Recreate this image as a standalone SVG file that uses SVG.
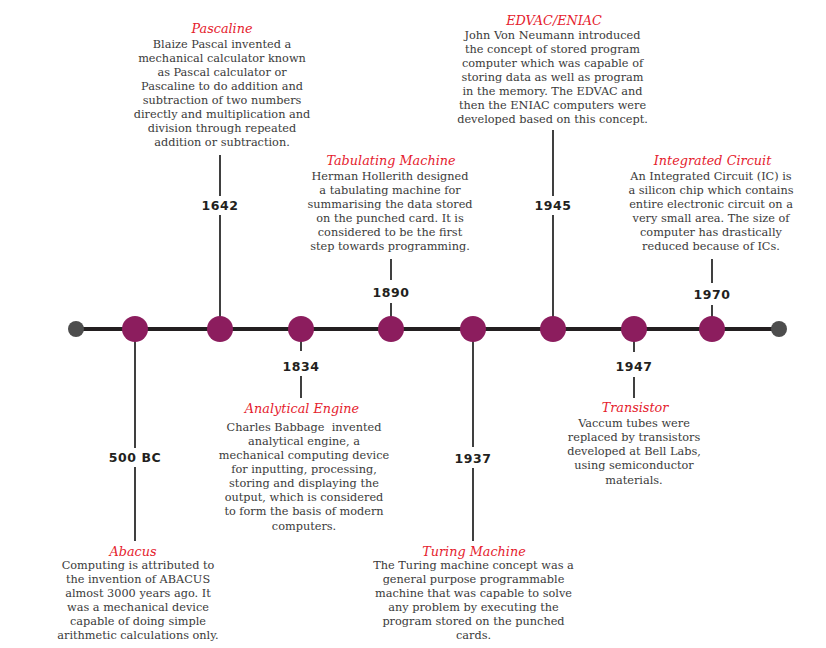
<svg xmlns="http://www.w3.org/2000/svg" width="826" height="648" viewBox="0 0 826 648">
<style>
.axis{stroke:#231f20;stroke-width:4;fill:none}
.stem{stroke:#2b2b2b;stroke-width:1.8;fill:none}
.dot{fill:#8c1d5e}
.end{fill:#4d4d4d}
.yr{font-family:"DejaVu Sans",sans-serif;font-weight:bold;font-size:12.5px;fill:#231f20;text-anchor:middle;letter-spacing:0.6px}
.ttl{font-family:"DejaVu Serif","Liberation Serif",serif;font-style:italic;font-size:12.8px;fill:#e5212d;text-anchor:middle}
.body{font-family:"DejaVu Serif","Liberation Serif",serif;font-size:11.3px;fill:#3a3a3a;text-anchor:middle}
</style>
<rect width="826" height="648" fill="#ffffff"/>
<g id="connectors">
<line class="axis" x1="76" y1="329" x2="779" y2="329"/>
<line class="stem" x1="135" y1="329" x2="135" y2="448"/>
<line class="stem" x1="135" y1="467" x2="135" y2="541"/>
<line class="stem" x1="220" y1="155" x2="220" y2="196"/>
<line class="stem" x1="220" y1="215" x2="220" y2="329"/>
<line class="stem" x1="301" y1="329" x2="301" y2="351"/>
<line class="stem" x1="301" y1="376" x2="301" y2="398"/>
<line class="stem" x1="391" y1="259" x2="391" y2="280"/>
<line class="stem" x1="391" y1="303" x2="391" y2="329"/>
<line class="stem" x1="473" y1="329" x2="473" y2="447"/>
<line class="stem" x1="473" y1="468" x2="473" y2="541"/>
<line class="stem" x1="553" y1="130" x2="553" y2="196"/>
<line class="stem" x1="553" y1="215" x2="553" y2="329"/>
<line class="stem" x1="634" y1="329" x2="634" y2="352"/>
<line class="stem" x1="634" y1="377" x2="634" y2="398"/>
<line class="stem" x1="712" y1="259" x2="712" y2="283"/>
<line class="stem" x1="712" y1="305" x2="712" y2="329"/>
</g>
<g id="start"><circle class="end" cx="76" cy="329" r="8"/></g>
<g id="end"><circle class="end" cx="779" cy="329" r="8"/></g>
<g id="abacus">
<circle class="dot" cx="135" cy="329" r="13"/>
<text class="yr" x="135" y="462">500 BC</text>
<text class="ttl" x="133" y="556">Abacus</text>
<text class="body" x="138" y="569.3">Computing is attributed to</text>
<text class="body" x="138" y="583.3">the invention of ABACUS</text>
<text class="body" x="138" y="597.3">almost 3000 years ago. It</text>
<text class="body" x="138" y="611.3">was a mechanical device</text>
<text class="body" x="138" y="625.3">capable of doing simple</text>
<text class="body" x="138" y="639.3">arithmetic calculations only.</text>
</g>
<g id="pascaline">
<circle class="dot" cx="220" cy="329" r="13"/>
<text class="yr" x="220" y="210">1642</text>
<text class="ttl" x="222" y="33.3">Pascaline</text>
<text class="body" x="222" y="48.3">Blaize Pascal invented a</text>
<text class="body" x="222" y="62.2">mechanical calculator known</text>
<text class="body" x="222" y="76.1">as Pascal calculator or</text>
<text class="body" x="222" y="90">Pascaline to do addition and</text>
<text class="body" x="222" y="104">subtraction of two numbers</text>
<text class="body" x="222" y="117.9">directly and multiplication and</text>
<text class="body" x="222" y="131.8">division through repeated</text>
<text class="body" x="222" y="145.7">addition or subtraction.</text>
</g>
<g id="analytical-engine">
<circle class="dot" cx="301" cy="329" r="13"/>
<text class="yr" x="301" y="371">1834</text>
<text class="ttl" x="302" y="413">Analytical Engine</text>
<text class="body" x="304" y="430.7" xml:space="preserve">Charles Babbage  invented</text>
<text class="body" x="304" y="444.8">analytical engine, a</text>
<text class="body" x="304" y="458.9">mechanical computing device</text>
<text class="body" x="304" y="473">for inputting, processing,</text>
<text class="body" x="304" y="487.1">storing and displaying the</text>
<text class="body" x="304" y="501.2">output, which is considered</text>
<text class="body" x="304" y="515.3">to form the basis of modern</text>
<text class="body" x="304" y="530">computers.</text>
</g>
<g id="tabulating-machine">
<circle class="dot" cx="391" cy="329" r="13"/>
<text class="yr" x="391" y="297">1890</text>
<text class="ttl" x="391" y="165">Tabulating Machine</text>
<text class="body" x="390" y="180">Herman Hollerith designed</text>
<text class="body" x="390" y="194">a tabulating machine for</text>
<text class="body" x="390" y="208">summarising the data stored</text>
<text class="body" x="390" y="222">on the punched card. It is</text>
<text class="body" x="390" y="236">considered to be the first</text>
<text class="body" x="390" y="250">step towards programming.</text>
</g>
<g id="turing-machine">
<circle class="dot" cx="473" cy="329" r="13"/>
<text class="yr" x="473" y="462.5">1937</text>
<text class="ttl" x="474" y="556">Turing Machine</text>
<text class="body" x="473.5" y="569.3">The Turing machine concept was a</text>
<text class="body" x="473.5" y="583.3">general purpose programmable</text>
<text class="body" x="473.5" y="597.3">machine that was capable to solve</text>
<text class="body" x="473.5" y="611.3">any problem by executing the</text>
<text class="body" x="473.5" y="625.3">program stored on the punched</text>
<text class="body" x="473.5" y="639.3">cards.</text>
</g>
<g id="edvac-eniac">
<circle class="dot" cx="553" cy="329" r="13"/>
<text class="yr" x="553" y="210">1945</text>
<text class="ttl" x="554" y="25">EDVAC/ENIAC</text>
<text class="body" x="552.5" y="39.3">John Von Neumann introduced</text>
<text class="body" x="552.5" y="53.3">the concept of stored program</text>
<text class="body" x="552.5" y="67.3">computer which was capable of</text>
<text class="body" x="552.5" y="81.3">storing data as well as program</text>
<text class="body" x="552.5" y="95.3">in the memory. The EDVAC and</text>
<text class="body" x="552.5" y="109.3">then the ENIAC computers were</text>
<text class="body" x="552.5" y="123.3">developed based on this concept.</text>
</g>
<g id="transistor">
<circle class="dot" cx="634" cy="329" r="13"/>
<text class="yr" x="634" y="371">1947</text>
<text class="ttl" x="635" y="411.7">Transistor</text>
<text class="body" x="634" y="426.7">Vaccum tubes were</text>
<text class="body" x="634" y="440.9">replaced by transistors</text>
<text class="body" x="634" y="455.1">developed at Bell Labs,</text>
<text class="body" x="634" y="469.3">using semiconductor</text>
<text class="body" x="634" y="483.5">materials.</text>
</g>
<g id="integrated-circuit">
<circle class="dot" cx="712" cy="329" r="13"/>
<text class="yr" x="712" y="298.5">1970</text>
<text class="ttl" x="712.5" y="165">Integrated Circuit</text>
<text class="body" x="711" y="180">An Integrated Circuit (IC) is</text>
<text class="body" x="711" y="194">a silicon chip which contains</text>
<text class="body" x="711" y="208">entire electronic circuit on a</text>
<text class="body" x="711" y="222">very small area. The size of</text>
<text class="body" x="711" y="236">computer has drastically</text>
<text class="body" x="711" y="250">reduced because of ICs.</text>
</g>
</svg>
